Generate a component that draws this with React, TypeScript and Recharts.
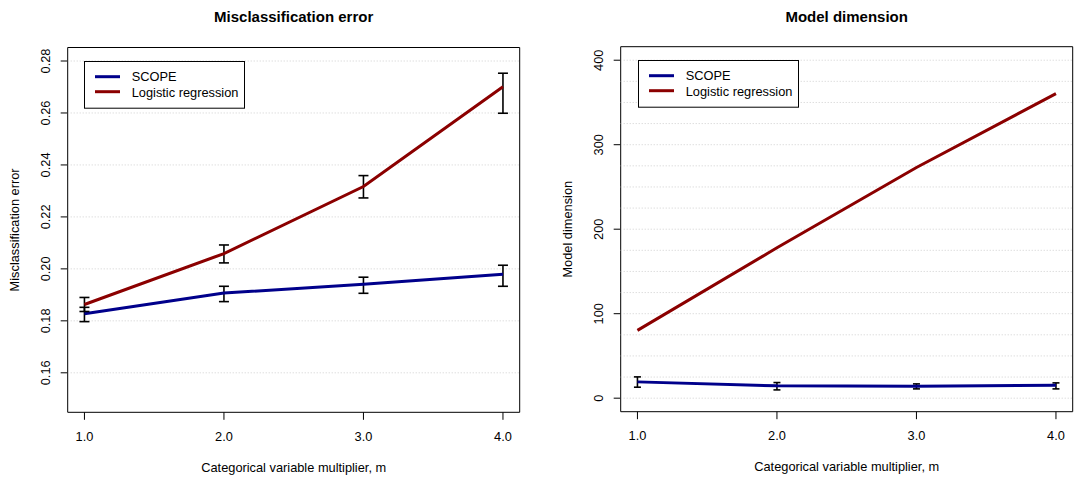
import {
  ErrorBar,
  Label,
  Legend,
  Line,
  LineChart,
  ReferenceArea,
  ReferenceLine,
  XAxis,
  YAxis,
} from "recharts";

const FONT = '"Liberation Sans", Arial, Helvetica, sans-serif';

const multipliers = [1, 2, 3, 4];
const xTicks = [1, 2, 3, 4];
const seriesNames = ["SCOPE", "Logistic regression"];
const seriesColors = ["#00008b", "#8b0000"];

// misclassification error (mean, lower, upper)
const errScope = [0.1827, 0.1907, 0.1941, 0.1979];
const errScopeLo = [0.1797, 0.1874, 0.1906, 0.1933];
const errScopeHi = [0.1852, 0.1933, 0.1968, 0.2014];
const errLogit = [0.1863, 0.2059, 0.2317, 0.2701];
const errLogitLo = [0.1836, 0.2023, 0.2273, 0.2599];
const errLogitHi = [0.189, 0.2092, 0.2359, 0.2753];
const errTicks = [0.16, 0.18, 0.2, 0.22, 0.24, 0.26, 0.28];

// model dimension
const dimScope = [19.3, 14.6, 14.2, 15.4];
const dimScopeLo = [13.0, 9.8, 11.0, 11.0];
const dimScopeHi = [25.2, 18.5, 16.9, 18.1];
const dimLogit = [80.3, 178, 273, 360.5];
const dimTicks = [0, 100, 200, 300, 400];
const dimGrid = [0, 25, 50, 75, 100, 125, 150, 175, 200, 225, 250, 275, 300, 325, 350, 375, 400];

const errData = multipliers.map((m, i) => ({
  m,
  scope: errScope[i],
  scopeErr: [errScope[i] - errScopeLo[i], errScopeHi[i] - errScope[i]],
  logit: errLogit[i],
  logitErr: [errLogit[i] - errLogitLo[i], errLogitHi[i] - errLogit[i]],
}));

const dimData = multipliers.map((m, i) => ({
  m,
  scope: dimScope[i],
  scopeErr: [dimScope[i] - dimScopeLo[i], dimScopeHi[i] - dimScope[i]],
  logit: dimLogit[i],
}));

const X_DOMAIN: [number, number] = [0.88, 4.12];

function LegendBox() {
  return (
    <svg width={161} height={48} style={{ display: "block" }}>
      <rect x={0.5} y={0.5} width={160} height={46.7} fill="#fff" stroke="#000" />
      {seriesNames.map((name, i) => (
        <g key={name}>
          <line x1={11} x2={36} y1={15.7 + i * 15} y2={15.7 + i * 15} stroke={seriesColors[i]} strokeWidth={3} />
          <text x={47.7} y={20.4 + i * 15.2} fontSize={12.8} fontFamily={FONT} fill="#000">
            {name}
          </text>
        </g>
      ))}
    </svg>
  );
}

function YTick(props: any) {
  const { x, y, payload, fmt } = props;
  return (
    <text
      x={x}
      y={y}
      transform={`rotate(-90 ${x} ${y})`}
      textAnchor="middle"
      fontSize={12.8}
      fontFamily={FONT}
      fill="#000"
    >
      {fmt(payload.value)}
    </text>
  );
}

type PanelProps = {
  left: number;
  title: string;
  yLabel: string;
  data: any[];
  yDomain: [number, number];
  yTicks: number[];
  grid: number[];
  fmt: (v: number) => string;
  logitErr: boolean;
  cap: number;
  margin: { top: number; right: number; bottom: number; left: number };
  legendPos: { left: number; top: number };
};

function Panel(p: PanelProps) {
  const plotLeft = p.margin.left + 40;
  const plotRight = 537 - p.margin.right;
  return (
    <div style={{ position: "absolute", left: p.left, top: 0, width: 537, height: 477 }}>
      <div
        style={{
          position: "absolute",
          left: plotLeft,
          width: plotRight - plotLeft,
          top: 9,
          textAlign: "center",
          fontFamily: FONT,
          fontWeight: "bold",
          fontSize: 15,
          lineHeight: "15px",
          color: "#000",
        }}
      >
        {p.title}
      </div>
      <LineChart width={537} height={477} data={p.data} margin={p.margin}>
        {p.grid.map((v) => (
          <ReferenceLine key={v} y={v} stroke="#cfcfcf" strokeDasharray="1 2" />
        ))}
        <XAxis
          type="number"
          dataKey="m"
          domain={X_DOMAIN}
          ticks={xTicks}
          allowDataOverflow
          height={40}
          axisLine={false}
          tickSize={7.5}
          tickMargin={12}
          tickLine={{ stroke: "#000" }}
          tickFormatter={(v: number) => v.toFixed(1)}
          tick={{ fontSize: 12.8, fontFamily: FONT, fill: "#000" }}
        >
          <Label
            content={(lp: any) => {
              const vb = lp.viewBox || {};
              return (
                <text
                  x={vb.x + vb.width / 2}
                  y={vb.y + 59.7}
                  textAnchor="middle"
                  fontSize={12.8}
                  fontFamily={FONT}
                  fill="#000"
                >
                  Categorical variable multiplier, m
                </text>
              );
            }}
          />
        </XAxis>
        <YAxis
          type="number"
          domain={p.yDomain}
          ticks={p.yTicks}
          allowDataOverflow
          width={40}
          axisLine={false}
          tickSize={7}
          tickMargin={11}
          tickLine={{ stroke: "#000" }}
          tick={<YTick fmt={p.fmt} />}
        >
          <Label
            content={(lp: any) => {
              const vb = lp.viewBox || {};
              const x = vb.x + vb.width - 49;
              const y = vb.y + vb.height / 2;
              return (
                <text
                  x={x}
                  y={y}
                  transform={`rotate(-90 ${x} ${y})`}
                  textAnchor="middle"
                  fontSize={12.8}
                  fontFamily={FONT}
                  fill="#000"
                >
                  {p.yLabel}
                </text>
              );
            }}
          />
        </YAxis>
        <Line
          dataKey="scope"
          type="linear"
          stroke={seriesColors[0]}
          strokeWidth={3}
          dot={false}
          isAnimationActive={false}
        >
          <ErrorBar dataKey="scopeErr" direction="y" width={p.cap} stroke="#000" strokeWidth={1.6} isAnimationActive={false} />
        </Line>
        <Line
          dataKey="logit"
          type="linear"
          stroke={seriesColors[1]}
          strokeWidth={3}
          dot={false}
          isAnimationActive={false}
        >
          {p.logitErr && (
            <ErrorBar dataKey="logitErr" direction="y" width={p.cap} stroke="#000" strokeWidth={1.6} isAnimationActive={false} />
          )}
        </Line>
        <ReferenceArea
          x1={X_DOMAIN[0]}
          x2={X_DOMAIN[1]}
          y1={p.yDomain[0]}
          y2={p.yDomain[1]}
          fill="none"
          stroke="#000"
          strokeWidth={1}
        />
        <Legend
          layout="vertical"
          align="center"
          verticalAlign="middle"
          wrapperStyle={{ left: p.legendPos.left, top: p.legendPos.top, width: 161, height: 48 }}
          content={() => <LegendBox />}
        />
      </LineChart>
    </div>
  );
}

export default function App() {
  return (
    <div style={{ position: "absolute", left: 0, top: 0, width: 1074, height: 477, background: "#fff" }}>
      <Panel
        left={0}
        title="Misclassification error"
        yLabel="Misclassification error"
        data={errData}
        yDomain={[0.1448, 0.2852]}
        yTicks={errTicks}
        grid={errTicks}
        fmt={(v) => v.toFixed(2)}
        logitErr
        cap={5}
        margin={{ top: 47.5, right: 17.3, bottom: 24.7, left: 27.7 }}
        legendPos={{ left: 84, top: 61 }}
      />
      <Panel
        left={537}
        title="Model dimension"
        yLabel="Model dimension"
        data={dimData}
        yDomain={[-16, 416]}
        yTicks={dimTicks}
        grid={dimGrid}
        fmt={(v) => String(v)}
        logitErr={false}
        cap={3.5}
        margin={{ top: 46.7, right: 1.3, bottom: 25.3, left: 43.7 }}
        legendPos={{ left: 101.3, top: 60 }}
      />
    </div>
  );
}
